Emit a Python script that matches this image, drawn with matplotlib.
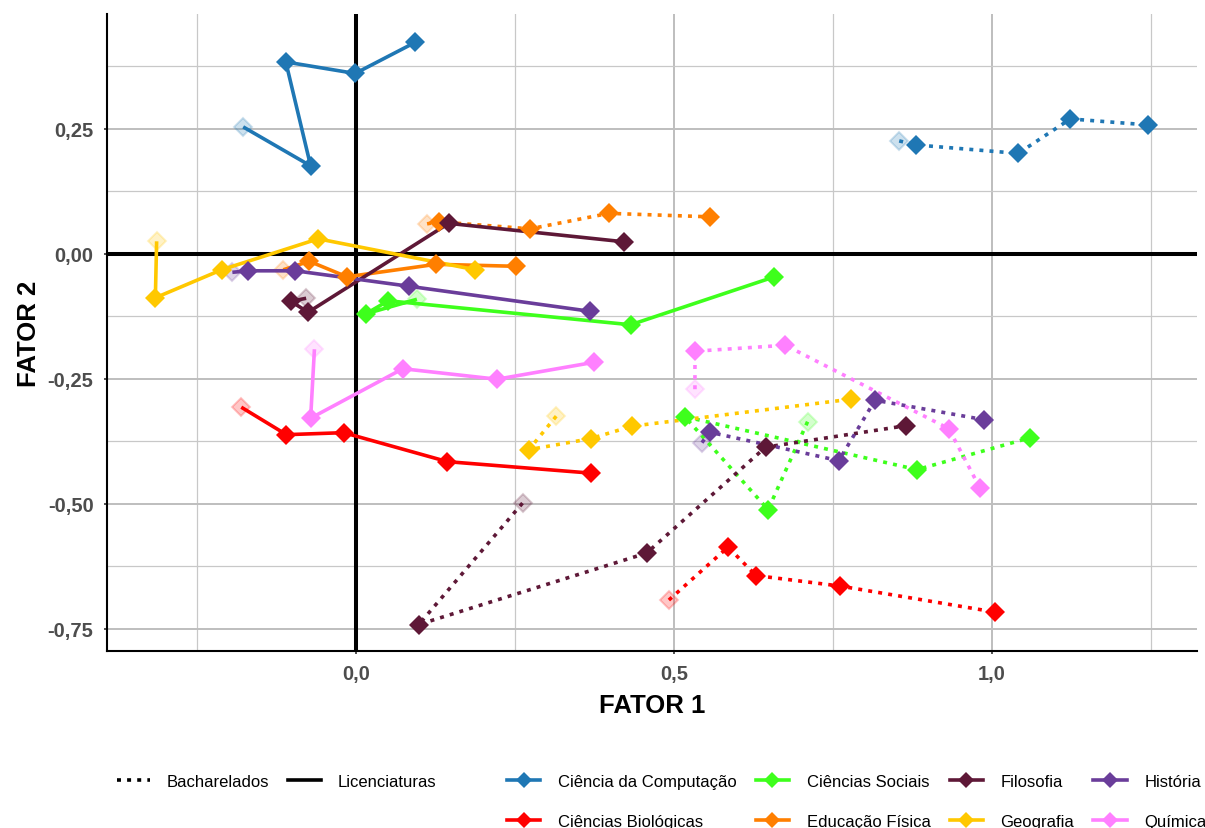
import matplotlib
matplotlib.use("Agg")
import matplotlib.pyplot as plt
from matplotlib.lines import Line2D

plt.rcParams['font.family'] = ['Liberation Sans', 'DejaVu Sans']

# Courses and colours
cursos = ["Ciência da Computação", "Ciências Biológicas", "Ciências Sociais",
          "Educação Física", "Filosofia", "Geografia", "História", "Química"]
cores = ["#1F77B4", "#FF0000", "#3EFF1C", "#FF7F00",
         "#5E1837", "#FFC800", "#6A3D9A", "#FF80FF"]

# Trajectories on the factor plane (first point = starting position)
comp_lic_f1 = [-0.177, -0.071, -0.110, -0.001, 0.093]
comp_lic_f2 = [0.254, 0.176, 0.384, 0.361, 0.423]
comp_bach_f1 = [0.854, 0.880, 1.041, 1.123, 1.245]
comp_bach_f2 = [0.226, 0.218, 0.201, 0.270, 0.258]

bio_lic_f1 = [-0.180, -0.109, -0.019, 0.144, 0.370]
bio_lic_f2 = [-0.307, -0.362, -0.358, -0.416, -0.439]
bio_bach_f1 = [0.492, 0.585, 0.629, 0.761, 1.004]
bio_bach_f2 = [-0.693, -0.587, -0.644, -0.665, -0.717]

soc_lic_f1 = [0.096, 0.016, 0.051, 0.432, 0.658]
soc_lic_f2 = [-0.091, -0.120, -0.094, -0.142, -0.046]
soc_bach_f1 = [0.710, 0.648, 0.517, 0.882, 1.060]
soc_bach_f2 = [-0.336, -0.512, -0.326, -0.432, -0.368]

edf_lic_f1 = [-0.114, -0.073, -0.014, 0.126, 0.252]
edf_lic_f2 = [-0.032, -0.015, -0.046, -0.021, -0.025]
edf_bach_f1 = [0.112, 0.130, 0.274, 0.398, 0.557]
edf_bach_f2 = [0.060, 0.064, 0.050, 0.081, 0.074]

fil_lic_f1 = [-0.078, -0.102, -0.075, 0.146, 0.422]
fil_lic_f2 = [-0.089, -0.095, -0.117, 0.061, 0.024]
fil_bach_f1 = [0.262, 0.099, 0.457, 0.644, 0.865]
fil_bach_f2 = [-0.499, -0.742, -0.599, -0.387, -0.344]

geo_lic_f1 = [-0.313, -0.315, -0.211, -0.059, 0.188]
geo_lic_f2 = [0.025, -0.088, -0.032, 0.030, -0.032]
geo_bach_f1 = [0.315, 0.272, 0.369, 0.434, 0.778]
geo_bach_f2 = [-0.325, -0.392, -0.370, -0.345, -0.291]

his_lic_f1 = [-0.194, -0.169, -0.095, 0.084, 0.368]
his_lic_f2 = [-0.037, -0.034, -0.034, -0.065, -0.115]
his_bach_f1 = [0.544, 0.556, 0.759, 0.816, 0.987]
his_bach_f2 = [-0.378, -0.357, -0.414, -0.293, -0.332]

qui_lic_f1 = [-0.065, -0.071, 0.074, 0.222, 0.375]
qui_lic_f2 = [-0.191, -0.329, -0.230, -0.251, -0.217]
qui_bach_f1 = [0.533, 0.533, 0.675, 0.932, 0.981]
qui_bach_f2 = [-0.271, -0.195, -0.183, -0.350, -0.469]

x_ticks = [0.0, 0.5, 1.0]
x_ticklabels = ["0,0", "0,5", "1,0"]
y_ticks = [-0.75, -0.5, -0.25, 0.0, 0.25]
y_ticklabels = ["-0,75", "-0,50", "-0,25", "0,00", "0,25"]
x_minor = [-0.25, 0.25, 0.75, 1.25]
y_minor = [-0.625, -0.375, -0.125, 0.125, 0.375]

tipos = ["Bacharelados", "Licenciaturas"]
estilos = {"Bacharelados": (0, (1.1, 1.7)), "Licenciaturas": "-"}

series = [
    (comp_lic_f1, comp_lic_f2, comp_bach_f1, comp_bach_f2),
    (bio_lic_f1, bio_lic_f2, bio_bach_f1, bio_bach_f2),
    (soc_lic_f1, soc_lic_f2, soc_bach_f1, soc_bach_f2),
    (edf_lic_f1, edf_lic_f2, edf_bach_f1, edf_bach_f2),
    (fil_lic_f1, fil_lic_f2, fil_bach_f1, fil_bach_f2),
    (geo_lic_f1, geo_lic_f2, geo_bach_f1, geo_bach_f2),
    (his_lic_f1, his_lic_f2, his_bach_f1, his_bach_f2),
    (qui_lic_f1, qui_lic_f2, qui_bach_f1, qui_bach_f2),
]

W, H = 1205, 829
fig = plt.figure(figsize=(W / 100, H / 100), dpi=100)
ax = fig.add_axes([107 / W, 1 - 652 / H, 1090 / W, 637 / H])

ax.set_xlim(-0.391, 1.322)
ax.set_ylim(-0.795, 0.48)

# Grid
ax.set_xticks(x_ticks)
ax.set_xticklabels(x_ticklabels)
ax.set_yticks(y_ticks)
ax.set_yticklabels(y_ticklabels)
ax.set_xticks(x_minor, minor=True)
ax.set_yticks(y_minor, minor=True)
ax.grid(True, which="major", color="#BEBEBE", lw=1.4, zorder=0)
ax.grid(True, which="minor", color="#C8C8C8", lw=0.9, zorder=0)
ax.set_axisbelow(True)

for s in ["top", "right"]:
    ax.spines[s].set_visible(False)
for s in ["left", "bottom"]:
    ax.spines[s].set_color("black")
    ax.spines[s].set_linewidth(1.5)

ax.tick_params(which="major", length=2.2, width=1.2, color="#333333",
               labelsize=14.5, labelcolor="#4D4D4D", pad=7.5)
ax.tick_params(which="minor", length=0)
for lab in ax.get_xticklabels() + ax.get_yticklabels():
    lab.set_fontweight("bold")

# Reference axes through the origin
ax.axhline(0, color="black", lw=2.9, zorder=1)
ax.axvline(0, color="black", lw=2.9, zorder=1)

for cor, (lf1, lf2, bf1, bf2) in zip(cores, series):
    for f1, f2, tipo in ((bf1, bf2, "Bacharelados"), (lf1, lf2, "Licenciaturas")):
        ax.plot(f1[:1], f2[:1], ls="none", marker="D", ms=9.2,
                mfc=matplotlib.colors.to_rgba(cor, 0.22),
                mec=matplotlib.colors.to_rgba(cor, 0.22), mew=1.4, zorder=2.5)
        ax.plot(f1, f2, color=cor, lw=2.6, ls=estilos[tipo],
                solid_capstyle="butt", dash_capstyle="butt", zorder=3)
        ax.plot(f1[1:], f2[1:], ls="none", marker="D", ms=10.5, mew=0,
                color=cor, zorder=4)

ax.set_xlabel("FATOR 1", fontsize=18.5, fontweight="bold", labelpad=7)
ax.set_ylabel("FATOR 2", fontsize=18.5, fontweight="bold", labelpad=5)

# Legends
tipo_handles = [Line2D([], [], color="black", lw=2.6, ls=estilos[t],
                       dash_capstyle="butt") for t in tipos]
fig.legend(tipo_handles, tipos, loc="upper left",
           bbox_to_anchor=(117 / W, 1 - 775 / H), ncol=2, frameon=False,
           fontsize=12, handlelength=2.0, handletextpad=1.0,
           columnspacing=1.1, borderpad=0, borderaxespad=0)

curso_handles = [Line2D([], [], color=c, lw=2.6, marker="D", ms=8.5, mew=0)
                 for c in cores]
fig.legend(curso_handles, cursos, loc="upper left",
           bbox_to_anchor=(507 / W, 1 - 775 / H), ncol=4, frameon=False,
           fontsize=12, handlelength=2.0, handletextpad=1.05,
           columnspacing=1.15, labelspacing=1.5, borderpad=0, borderaxespad=0)

fig.savefig("out.png", dpi=100)
